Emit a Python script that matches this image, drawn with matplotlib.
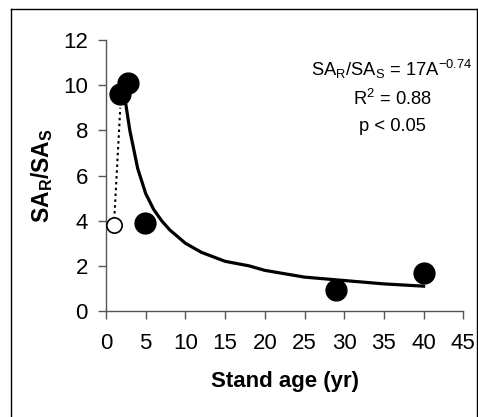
import matplotlib
matplotlib.use("Agg")
import matplotlib.pyplot as plt
from matplotlib.lines import Line2D

plt.rcParams['font.family'] = ['Liberation Sans', 'DejaVu Sans']
plt.rcParams['mathtext.fontset'] = 'custom'
plt.rcParams['mathtext.rm'] = 'Liberation Sans'
plt.rcParams['mathtext.bf'] = 'Liberation Sans:bold'
plt.rcParams['mathtext.it'] = 'Liberation Sans:italic'

# Data
age_filled = [1.8, 2.8, 4.9, 29.0, 40.0]
ratio_filled = [9.6, 10.1, 3.9, 0.93, 1.67]
age_open = [1.0]
ratio_open = [3.8]
link_age = [1.0, 1.8]
link_ratio = [3.8, 9.0]
fit_age = [2.3, 3, 4, 5, 6, 7, 8, 10, 12, 15, 18, 20, 25, 30, 35, 40]
fit_ratio = [9.6, 8.0, 6.3, 5.2, 4.5, 4.0, 3.6, 3.0, 2.6, 2.2, 2.0, 1.8, 1.5, 1.35, 1.2, 1.1]
x_ticks = [0, 5, 10, 15, 20, 25, 30, 35, 40, 45]
y_ticks = [0, 2, 4, 6, 8, 10, 12]

fig = plt.figure(figsize=(4.78, 4.17), dpi=100)
ax = fig.add_axes([106/478, 1-311/417, (463.3-106)/478, (311-40)/417])

ax.plot(fit_age, fit_ratio, color='black', lw=2.3, zorder=2)
ax.plot(link_age, link_ratio, color='black', lw=1.5, ls=(0, (1.2, 1.6)), zorder=2)
ax.plot(age_filled, ratio_filled, 'o', color='black', ms=15, zorder=3, clip_on=False)
ax.plot(age_open, ratio_open, 'o', mfc='white', mec='black', mew=1.2, ms=11, zorder=3, clip_on=False)

ax.set_xlim(0, 45)
ax.set_ylim(0, 12)
ax.set_xticks(x_ticks)
ax.set_yticks(y_ticks)
for s in ['top', 'right']:
    ax.spines[s].set_visible(False)
for s in ['left', 'bottom']:
    ax.spines[s].set_color('#555555')
    ax.spines[s].set_linewidth(1.0)
ax.tick_params(direction='out', length=6, width=1.0, color='#555555', labelsize=16)
ax.tick_params(axis='x', pad=10)
ax.tick_params(axis='y', pad=7)

ax.set_xlabel('Stand age (yr)', fontsize=16, fontweight='bold', labelpad=12)
ax.set_ylabel(r'$\mathbf{SA_R/SA_S}$', fontsize=16.5, labelpad=6)

tx = (392-106)/(463.3-106)*45
ax.text(tx, 10.7, r'SA$_\mathregular{R}$/SA$_\mathregular{S}$ = 17A$^\mathregular{-0.74}$', ha='center', va='center', fontsize=13.2)
ax.text(tx, 9.4, r'R$^\mathregular{2}$ = 0.88', ha='center', va='center', fontsize=13.2)
ax.text(tx, 8.15, 'p < 0.05', ha='center', va='center', fontsize=13.2)

# figure frame
x0, x1 = 11/478, 477/478
y1 = 1-9/417
for xs, ys in [([x0, x0], [0, y1]), ([x0, x1], [y1, y1]), ([x1, x1], [y1, 0])]:
    fig.add_artist(Line2D(xs, ys, transform=fig.transFigure, color='black', lw=1.0))

fig.savefig('out.png', dpi=100)
